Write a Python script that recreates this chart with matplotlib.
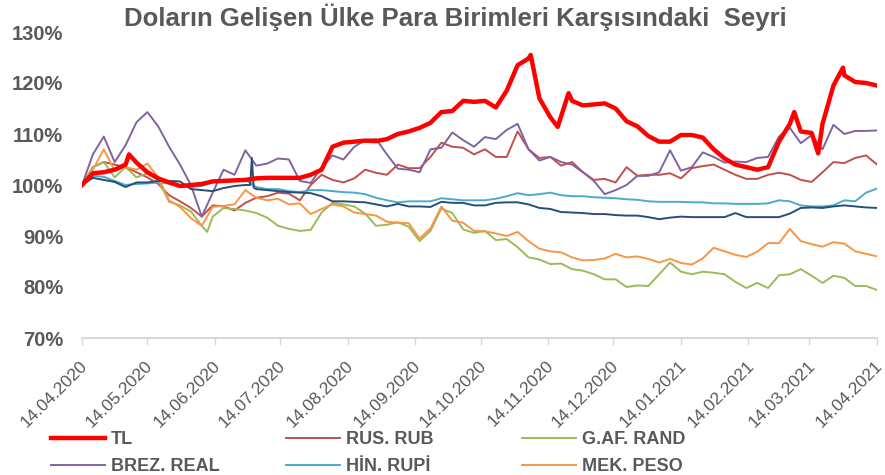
import numpy as np
import pandas as pd
import matplotlib
matplotlib.use("Agg")
import matplotlib.pyplot as plt
import matplotlib.transforms as mtransforms

plt.rcParams['font.family'] = ['Liberation Sans', 'DejaVu Sans']

title = "Doların Gelişen Ülke Para Birimleri Karşısındaki  Seyri"
start_date = "14.04.2020"
tick_labels = ["14.04.2020", "14.05.2020", "14.06.2020", "14.07.2020", "14.08.2020",
               "14.09.2020", "14.10.2020", "14.11.2020", "14.12.2020", "14.01.2021",
               "14.02.2021", "14.03.2021", "14.04.2021"]
y_ticks = [70, 80, 90, 100, 110, 120, 130]

# day offsets from 14.04.2020 (sampled every 5 days)
days = list(range(0, 366, 5))

tl_vals = [100, 102.3, 102.5, 103, 104, 104.4, 102.5, 101.3, 100.5, 99.8,
           100, 100.2, 100.7, 100.8, 100.9, 101, 101.3, 101.4, 101.4, 101.4,
           101.4, 102, 103, 107.5, 108.3, 108.5, 108.7, 108.6, 109, 110,
           110.5, 111.2, 112.2, 114.3, 114.5, 116.5, 116.3, 116.5, 115.2, 118.5,
           123.5, 124.8, 117, 113.3, 113.5, 116.5, 115.6, 115.8, 116, 115,
           112.5, 111.5, 109.6, 108.5, 108.5, 109.8, 109.8, 109.3, 107, 105.2,
           104, 103.5, 103, 103.5, 108.5, 112, 110.5, 110.2, 112, 119.5,
           121.5, 120.2, 120, 119.5]
tl_extra_days = [21.6, 206, 218.4, 223.4, 327, 338, 349.4]
tl_extra_vals = [106, 125.5, 111.4, 118, 114.3, 106.2, 123]

rub_vals = [100, 103.5, 104.5, 104, 103.5, 102.5, 101.5, 100.2, 98, 96.8,
            95.5, 93.8, 96, 95.8, 95, 96.5, 97.5, 97.8, 98.5, 98.3,
            97, 100, 102, 101, 100.5, 101.3, 103, 102.4, 102, 104,
            103.3, 103.3, 105.5, 108.3, 107.5, 107.3, 106, 107, 105.5, 105.5,
            110.5, 107, 105.3, 105.5, 103.8, 104.5, 102.5, 101, 101.2, 100.5,
            103.5, 101.8, 102, 102, 102.3, 101.3, 103.3, 103.7, 104, 103,
            102, 101.2, 101.2, 102, 102.4, 102, 101, 100.6, 102.5, 104.5,
            104.3, 105.3, 105.8, 104]

rand_vals = [100, 103.5, 104.5, 101.5, 103.5, 101.5, 102.3, 101, 96.7, 96,
             94.8, 92, 93.8, 95.5, 95.3, 95, 94.5, 93.6, 92, 91.4,
             91, 91.2, 94.6, 96.5, 96.2, 95.8, 94.4, 92, 92.2, 92.7,
             91.8, 89, 91, 95.4, 94.5, 91.3, 90.6, 91, 89.2, 89.4,
             87.8, 85.8, 85.4, 84.5, 84.6, 83.5, 83.2, 82.5, 81.5, 81.5,
             80, 80.3, 80.2, 82.5, 84.8, 83, 82.5, 83, 82.8, 82.5,
             81, 79.8, 80.8, 79.8, 82.3, 82.5, 83.5, 82.2, 80.8, 82.2,
             81.8, 80.2, 80.2, 79.4]
rand_extra_days = [57.5]
rand_extra_vals = [90.8]

real_vals = [100, 106, 109.5, 104.5, 107.8, 112.3, 114.3, 111.5, 107.5, 104,
             100, 93.8, 98.5, 103, 102, 106.8, 103.8, 104.2, 105.2, 105,
             100.8, 100.4, 103.4, 105.8, 105, 107.5, 108.8, 109, 106, 103.2,
             103, 102.5, 107, 107.3, 110.3, 108.8, 107.5, 109.4, 109, 110.8,
             112, 107, 104.8, 105.5, 104.5, 104, 102.5, 100.8, 98.2, 99,
             100, 101.8, 101.8, 102.5, 106.8, 102.8, 103.5, 106.4, 105.5, 104.4,
             104.6, 104.5, 105.3, 105.5, 109.5, 111.2, 108.2, 109.8, 107, 111.8,
             110, 110.6, 110.6, 110.7]

rupi_vals = [100, 101.8, 101.6, 100.8, 100, 100.2, 100.3, 100.5, 100.3, 99.8,
             99.6, 99.8, 100.6, 101, 101, 101, 99.6, 99.2, 99.2, 98.8,
             98.6, 99, 99, 98.8, 98.6, 98.5, 98.2, 97.5, 97, 96.6,
             96.8, 96.8, 96.8, 97.4, 97.2, 97, 97, 97, 97.3, 97.8,
             98.4, 98, 98.2, 98.5, 98, 97.8, 97.8, 97.6, 97.5, 97.4,
             97.2, 97.1, 96.8, 96.7, 96.7, 96.7, 96.6, 96.6, 96.4, 96.4,
             96.3, 96.3, 96.3, 96.4, 97, 96.8, 96, 95.8, 95.8, 96,
             97, 96.8, 98.5, 99.3]

peso_vals = [100, 103, 107, 102.8, 103.5, 103, 104.2, 101.5, 97, 95.7,
             93.5, 92, 95.7, 95.9, 96.2, 99, 97.5, 97, 97.3, 96.2,
             96.4, 94.3, 95.3, 96.2, 95.8, 94.6, 94.3, 94, 92.8, 92.6,
             92.5, 89.5, 91.5, 95.8, 93, 92.6, 91, 90.9, 90.5, 90,
             90.8, 89, 87.5, 87, 86.8, 85.8, 85.2, 85.3, 85.6, 86.5,
             85.8, 86, 85.5, 84.8, 85.5, 84.7, 84.4, 85.6, 87.7, 87,
             86.3, 85.9, 86.9, 88.6, 88.6, 91.4, 89, 88.4, 87.9, 88.8,
             88.5, 87, 86.5, 86]

other_vals = [100, 101.4, 101, 100.6, 99.6, 100.5, 100.5, 100.8, 100.8, 100.7,
              99.2, 99, 98.8, 99.4, 99.8, 100, 99.2, 99, 98.8, 98.6,
              98.5, 98.4, 97.8, 96.8, 96.8, 96.7, 96.6, 96.2, 95.8, 96.3,
              95.8, 95.8, 95.7, 96.7, 96.5, 96.5, 96, 96, 96.5, 96.6,
              96.6, 96.2, 95.5, 95.3, 94.7, 94.6, 94.5, 94.3, 94.3, 94.1,
              94, 94, 93.7, 93.3, 93.6, 93.8, 93.7, 93.7, 93.7, 93.7,
              94.5, 93.7, 93.7, 93.7, 93.7, 94.4, 95.5, 95.6, 95.5, 95.8,
              96, 95.8, 95.6, 95.5]
other_extra_days = [77.2, 78, 78.8]
other_extra_vals = [100, 105.3, 99.5]

base = pd.to_datetime(start_date, format="%d.%m.%Y")


def make_series(vals, xd=(), xv=()):
    d = np.array(list(days) + list(xd), dtype=float)
    v = np.array(list(vals) + list(xv), dtype=float)
    o = np.argsort(d, kind="stable")
    return base + pd.to_timedelta(d[o], unit="D"), v[o]


fig = plt.figure(figsize=(8.85, 4.75), dpi=100)
ax = fig.add_axes([82 / 885, 1 - 338 / 475, (877 - 82) / 885, (338 - 32) / 475])

series = [
    ("RUS. RUB", rub_vals, (), (), "#C0504D", 1.4),
    ("G.AF. RAND", rand_vals, rand_extra_days, rand_extra_vals, "#9BBB59", 1.4),
    ("BREZ. REAL", real_vals, (), (), "#8064A2", 1.4),
    ("HİN. RUPİ", rupi_vals, (), (), "#4BACC6", 1.4),
    ("MEK. PESO", peso_vals, (), (), "#F79646", 1.4),
    (None, other_vals, other_extra_days, other_extra_vals, "#254E79", 1.4),
    ("TL", tl_vals, tl_extra_days, tl_extra_vals, "#FF0000", 3.2),
]
handles = {}
for name, vals, xd, xv, col, lw in series:
    x, y = make_series(vals, xd, xv)
    ln, = ax.plot(x, y, color=col, lw=lw, solid_joinstyle="round")
    if name:
        handles[name] = ln

end_date = pd.to_datetime(tick_labels[-1], format="%d.%m.%Y")
ax.set_xlim(base, end_date)
ax.set_ylim(70, 130)
ax.set_yticks(y_ticks)
ax.set_yticklabels([f"{t}%" for t in y_ticks], fontsize=14.5, fontweight="bold",
                   color="#595959")
ax.tick_params(axis="y", length=0, pad=13.5)

tick_dates = pd.to_datetime(tick_labels, format="%d.%m.%Y")
ax.set_xticks(tick_dates)
ax.set_xticklabels(tick_labels, rotation=45, ha="right", va="center",
                   rotation_mode="anchor", fontsize=12.5, color="#595959")
ax.tick_params(axis="x", length=5, width=1, color="#D9D9D9", pad=13)
offset = mtransforms.ScaledTranslation(3 / 100, 0, fig.dpi_scale_trans)
for lab in ax.get_xticklabels():
    lab.set_transform(lab.get_transform() + offset)

for s in ["top", "right", "left"]:
    ax.spines[s].set_visible(False)
ax.spines["bottom"].set_color("#D9D9D9")
ax.spines["bottom"].set_linewidth(1.5)

fig.text(455 / 885, 1 - 17 / 475, title, ha="center", va="center",
         fontsize=18.5, fontweight="bold", color="#595959")

legend_cols = [(["TL", "BREZ. REAL"], 51), (["RUS. RUB", "HİN. RUPİ"], 286),
               (["G.AF. RAND", "MEK. PESO"], 522)]
for names, xpx in legend_cols:
    leg = fig.legend([handles[n] for n in names], names, loc="upper left",
                     bbox_to_anchor=(xpx / 885, 1 - 431 / 475), frameon=False,
                     borderpad=0, borderaxespad=0, handlelength=3.0,
                     handletextpad=0.3, labelspacing=0.55,
                     prop={"size": 13, "weight": "bold"})
    for t in leg.get_texts():
        t.set_color("#595959")

fig.savefig("out.png", dpi=100)
